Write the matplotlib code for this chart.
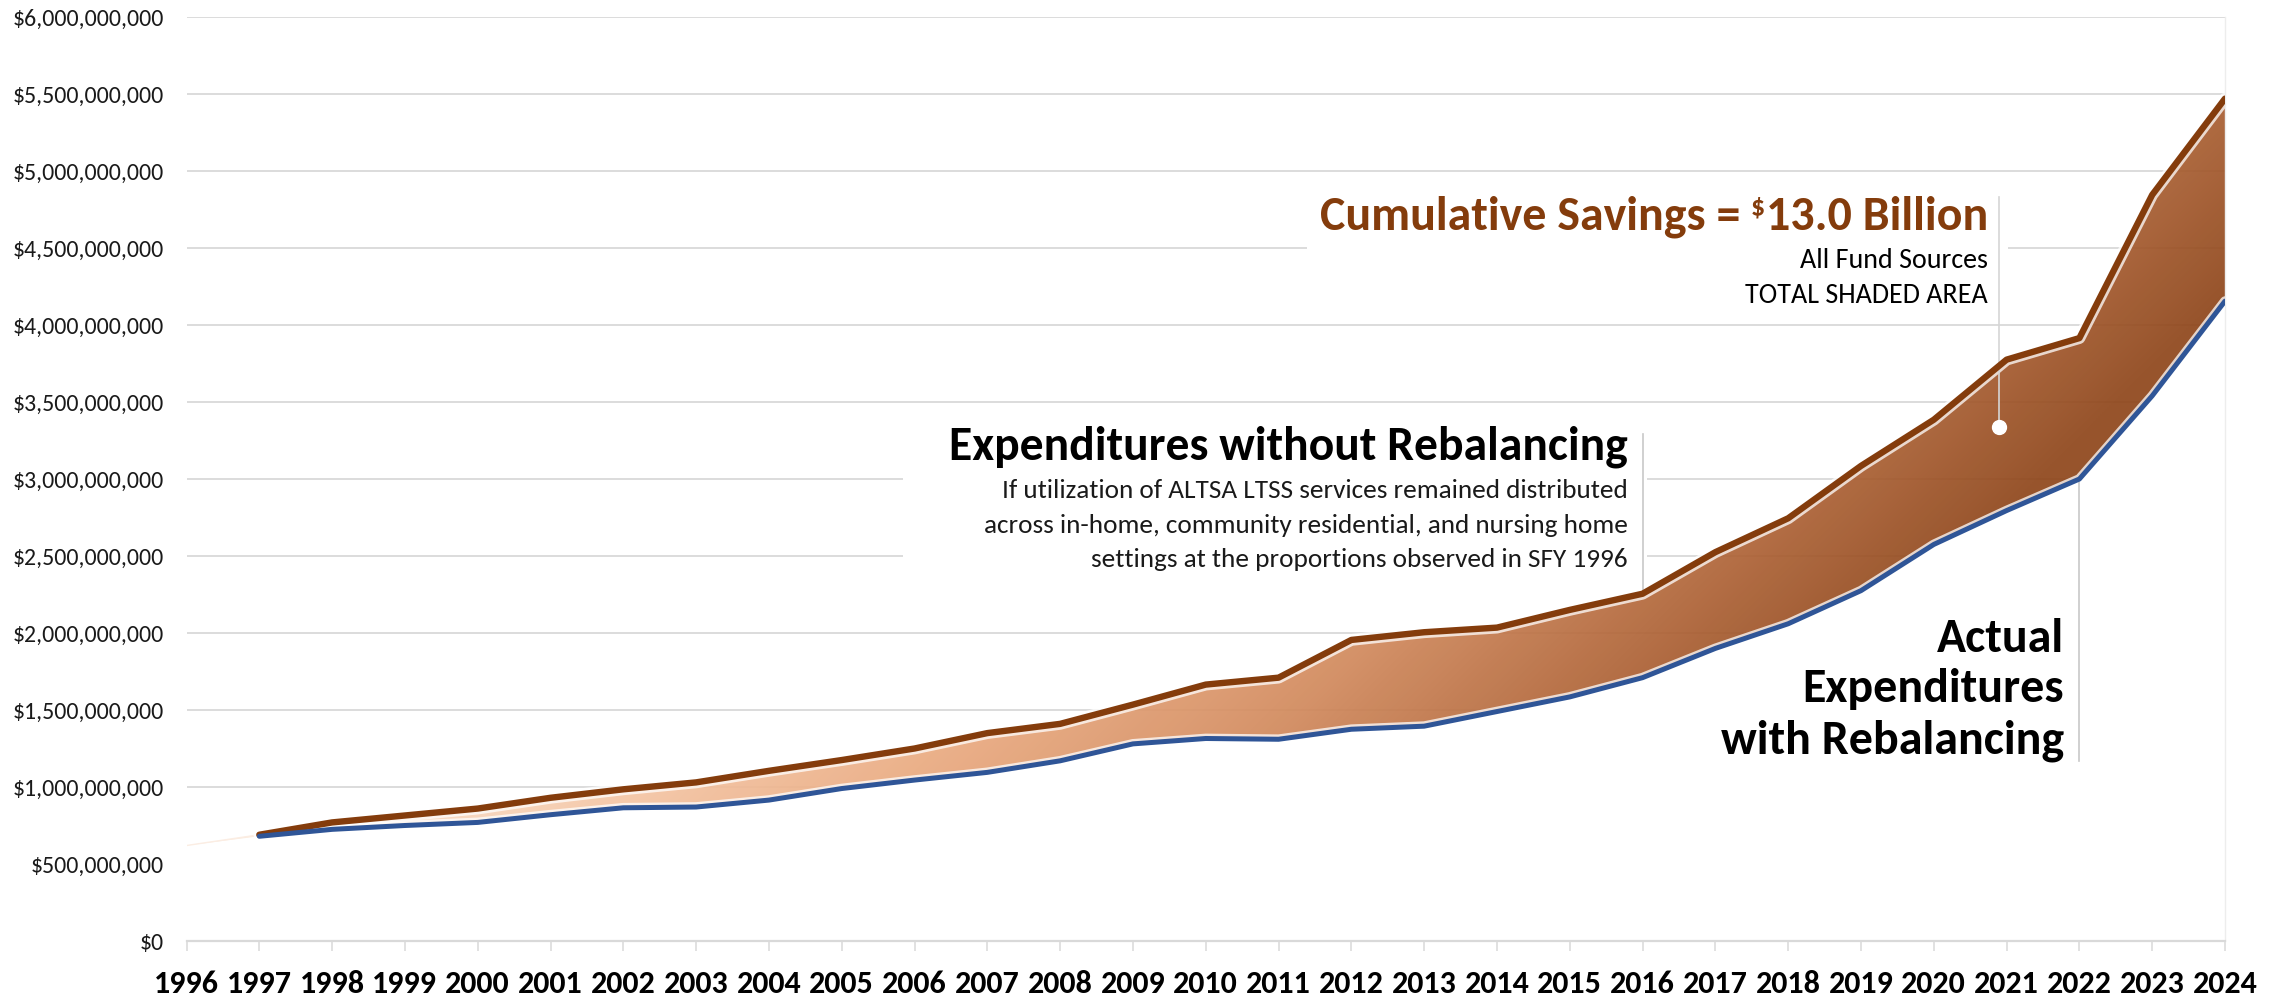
import numpy as np
import matplotlib
matplotlib.use("Agg")
import matplotlib.pyplot as plt
from matplotlib import font_manager as fm
from matplotlib.ticker import FuncFormatter
from matplotlib.patches import Rectangle

# ---------------- data ----------------
years = list(range(1997, 2025))
without_rebalancing = [0.69, 0.77, 0.815, 0.86, 0.93, 0.985, 1.03, 1.105, 1.175, 1.25,
                       1.35, 1.41, 1.535, 1.665, 1.71, 1.955, 2.005, 2.035, 2.15, 2.255,
                       2.525, 2.745, 3.085, 3.385, 3.775, 3.915, 4.845, 5.47]
actual_with_rebalancing = [0.68, 0.725, 0.75, 0.77, 0.82, 0.865, 0.87, 0.915, 0.99, 1.045,
                           1.095, 1.17, 1.28, 1.315, 1.31, 1.375, 1.395, 1.49, 1.585, 1.71,
                           1.90, 2.06, 2.275, 2.575, 2.795, 3.00, 3.54, 4.155]
area_start_year = 1996
area_start_value = 0.62
tick_years = list(range(1996, 2025))
y_ticks = [i * 0.5e9 for i in range(13)]

without_rebalancing = [v * 1e9 for v in without_rebalancing]
actual_with_rebalancing = [v * 1e9 for v in actual_with_rebalancing]
area_years = [area_start_year] + years
area_top = [area_start_value * 1e9] + without_rebalancing
area_base = [area_start_value * 1e9] + actual_with_rebalancing

# ---------------- fonts ----------------
names = {f.name for f in fm.fontManager.ttflist}
FONT = next((c for c in ["Carlito", "Calibri", "Liberation Sans Narrow", "Open Sans"] if c in names),
            "DejaVu Sans")
plt.rcParams["font.family"] = [FONT, "DejaVu Sans"]

BROWN = "#843C0C"
BLUE = "#2F5597"
GRID = "#D9D9D9"

FW, FH = 2285, 997
fig = plt.figure(figsize=(FW / 100, FH / 100), dpi=100)
fig.patch.set_facecolor("white")


def fx(px):
    return px / FW


def fy(py):
    return 1 - py / FH


ax = fig.add_axes([fx(186.5), fy(941), (2225 - 186.5) / FW, (941 - 17) / FH])
ax.set_xlim(1996, 2024)
ax.set_ylim(0, 6e9)

# gridlines
ax.set_axisbelow(True)
ax.set_yticks(y_ticks)
ax.yaxis.grid(True, color=GRID, lw=1.3, zorder=0.5)
ax.set_xticks(tick_years)
ax.set_xticklabels([str(y) for y in tick_years], fontsize=23, fontweight="bold")
ax.yaxis.set_major_formatter(FuncFormatter(lambda v, p: "${:,.0f}".format(v)))
ax.tick_params(axis="y", length=0, pad=16.5, labelsize=17.2, labelcolor="#1a1a1a")
ax.tick_params(axis="x", length=7.2, width=1.1, color=GRID, pad=14, direction="out")
for s in ["top", "left"]:
    ax.spines[s].set_visible(False)
ax.spines["bottom"].set_color(GRID)
ax.spines["bottom"].set_linewidth(1.6)
ax.spines["right"].set_color("#EDEDED")
ax.spines["right"].set_linewidth(1.0)

# white boxes behind annotation texts (hide gridlines)
ax.add_patch(Rectangle((fx(1307), fy(318)), fx(2008) - fx(1307), fy(185) - fy(318),
                       transform=fig.transFigure, facecolor="white", edgecolor="none", zorder=1.2))
ax.add_patch(Rectangle((fx(903), fy(592)), fx(1647) - fx(903), fy(425) - fy(592),
                       transform=fig.transFigure, facecolor="white", edgecolor="none", zorder=1.2))

# white area below actual expenditures (hides gridlines)
ax.fill_between(area_years, 0, area_base, facecolor="white", edgecolor="none", zorder=1.5)

# gradient savings band
band = ax.fill_between(area_years, area_base, area_top, facecolor="none", edgecolor="none", zorder=2)
nx, ny = 900, 420
u = np.linspace(0, 1, nx)[None, :]
v = np.linspace(0, 1, ny)[:, None]
Wp, Hp = 2038.5, 924.0
t = (u * Wp + v * Hp) / (Wp + Hp)
stops = [0.00, 0.30, 0.40, 0.50, 0.60, 0.70, 0.78, 1.00]
cols = np.array([(255, 255, 255), (252, 234, 218), (245, 200, 168), (234, 170, 128),
                 (212, 140, 95), (176, 100, 55), (143, 70, 26), (122, 56, 14)]) / 255.0
img = np.zeros((ny, nx, 3))
for c in range(3):
    img[:, :, c] = np.interp(t, stops, cols[:, c])
im = ax.imshow(img, extent=[1996, 2024, 0, 6e9], origin="upper", aspect="auto",
               interpolation="bilinear", alpha=0.92, zorder=2)
im.set_clip_path(band.get_paths()[0], transform=ax.transData)
ax.set_xlim(1996, 2024)
ax.set_ylim(0, 6e9)

# soft edge of the band
ax.plot(area_years, area_top, color="#FBEDE3", lw=1.0, zorder=2.5)

# lines with light glow
ax.plot(years, without_rebalancing, color="white", lw=8.5, alpha=0.75, zorder=3,
        solid_joinstyle="round", solid_capstyle="round")
ax.plot(years, actual_with_rebalancing, color="white", lw=7.0, alpha=0.75, zorder=3,
        solid_joinstyle="round", solid_capstyle="round")
ax.plot(years, without_rebalancing, color=BROWN, lw=4.6, zorder=4,
        solid_joinstyle="round", solid_capstyle="round")
ax.plot(years, actual_with_rebalancing, color=BLUE, lw=3.6, zorder=4,
        solid_joinstyle="round", solid_capstyle="round")

# leader lines
i2016 = years.index(2016)
i2022 = years.index(2022)
ax.plot([2016, 2016], [without_rebalancing[i2016], 3.29e9], color="#C8C8C8", lw=1.2, zorder=3.5)
ax.plot([2022, 2022], [1.17e9, actual_with_rebalancing[i2022]], color="#C8C8C8", lw=1.2, zorder=3.5)
ax.plot([2020.9, 2020.9], [3.34e9, 4.83e9], color="#D5D5D5", lw=1.2, zorder=3.5)
ax.plot([2020.9], [3.34e9], marker="o", ms=10, color="white", mec="white", zorder=5)

# ---------------- annotation texts ----------------
kw = dict(parse_math=False, ha="right", va="baseline")
renderer = fig.canvas.get_renderer()

t3 = fig.text(fx(1988), fy(230), "13.0 Billion", fontsize=34.5, fontweight="bold", color=BROWN, **kw)
bb = t3.get_window_extent(renderer)
t2 = fig.text(bb.x0 / FW - 1.0 / FW, fy(214), "$", fontsize=20, fontweight="bold", color=BROWN, **kw)
bb2 = t2.get_window_extent(renderer)
fig.text(bb2.x0 / FW - 10 / FW, fy(230), "Cumulative Savings =", fontsize=34.5, fontweight="bold",
         color=BROWN, **kw)
fig.text(fx(1988), fy(268), "All Fund Sources", fontsize=20.2, color="black", **kw)
fig.text(fx(1988), fy(303), "TOTAL SHADED AREA", fontsize=20.2, color="black", **kw)

fig.text(fx(1628), fy(460), "Expenditures without Rebalancing", fontsize=34.3, fontweight="bold",
         color="black", **kw)
sub = ["If utilization of ALTSA LTSS services remained distributed",
       "across in-home, community residential, and nursing home",
       "settings at the proportions observed in SFY 1996"]
for line, by in zip(sub, [498, 533, 567]):
    fig.text(fx(1628), fy(by), line, fontsize=19.6, color="#1a1a1a", **kw)

for line, by in zip(["Actual", "Expenditures", "with Rebalancing"], [652, 702, 753]):
    fig.text(fx(2064), fy(by), line, fontsize=34.6, fontweight="bold", color="black", **kw)

fig.savefig("out.png", dpi=100, facecolor="white")
